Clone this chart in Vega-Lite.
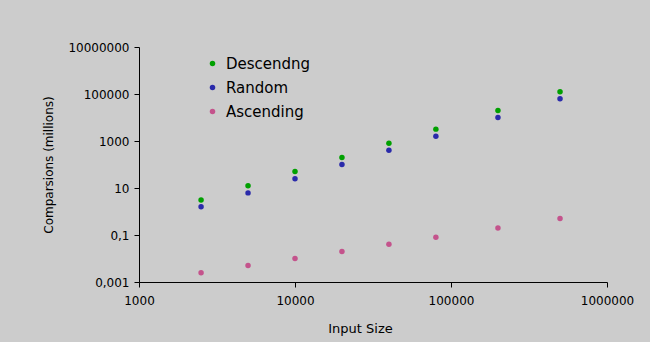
{
  "$schema": "https://vega.github.io/schema/vega-lite/v6.json",
  "width": 468,
  "height": 235,
  "autosize": "none",
  "padding": {"left": 139, "top": 47, "right": 43, "bottom": 60},
  "background": "#cccccc",
  "config": {
    "view": {"stroke": null},
    "font": "DejaVu Sans",
    "axis": {
      "grid": false,
      "domainColor": "#000000",
      "tickColor": "#000000",
      "labelColor": "#000000",
      "titleColor": "#000000",
      "labelFont": "DejaVu Sans",
      "titleFont": "DejaVu Sans",
      "labelFontSize": 12,
      "titleFontSize": 12,
      "titleFontWeight": "normal",
      "tickSize": 5,
      "domainWidth": 1,
      "tickWidth": 1
    }
  },
  "data": {
    "values": [
      {"n": 2500, "series": "Descendng", "c": 3.1},
      {"n": 5000, "series": "Descendng", "c": 12.5},
      {"n": 10000, "series": "Descendng", "c": 50},
      {"n": 20000, "series": "Descendng", "c": 200},
      {"n": 40000, "series": "Descendng", "c": 800},
      {"n": 80000, "series": "Descendng", "c": 3200},
      {"n": 200000, "series": "Descendng", "c": 20000},
      {"n": 500000, "series": "Descendng", "c": 125000},
      {"n": 2500, "series": "Random", "c": 1.6},
      {"n": 5000, "series": "Random", "c": 6.2},
      {"n": 10000, "series": "Random", "c": 25},
      {"n": 20000, "series": "Random", "c": 100},
      {"n": 40000, "series": "Random", "c": 400},
      {"n": 80000, "series": "Random", "c": 1600},
      {"n": 200000, "series": "Random", "c": 10000},
      {"n": 500000, "series": "Random", "c": 62500},
      {"n": 2500, "series": "Ascending", "c": 0.0025},
      {"n": 5000, "series": "Ascending", "c": 0.005},
      {"n": 10000, "series": "Ascending", "c": 0.01},
      {"n": 20000, "series": "Ascending", "c": 0.02},
      {"n": 40000, "series": "Ascending", "c": 0.04},
      {"n": 80000, "series": "Ascending", "c": 0.08},
      {"n": 200000, "series": "Ascending", "c": 0.2},
      {"n": 500000, "series": "Ascending", "c": 0.5}
    ]
  },
  "mark": {"type": "circle", "size": 30, "opacity": 1},
  "encoding": {
    "x": {
      "field": "n",
      "type": "quantitative",
      "scale": {"type": "log", "domain": [1000, 1000000], "nice": false},
      "axis": {
        "title": "Input Size",
        "values": [1000, 10000, 100000, 1000000],
        "labelExpr": "toString(datum.value)",
        "labelPadding": 8,
        "labelFlush": false,
        "titleX": 221,
        "titleY": 40,
        "titleFontSize": 13
      }
    },
    "y": {
      "field": "c",
      "type": "quantitative",
      "scale": {"type": "log", "domain": [0.001, 10000000], "nice": false},
      "axis": {
        "title": "Comparsions (millions)",
        "values": [0.001, 0.1, 10, 1000, 100000, 10000000],
        "labelExpr": "replace(toString(datum.value), '.', ',')",
        "labelPadding": 5,
        "labelFlush": false,
        "titleX": -91,
        "titleBaseline": "middle"
      }
    },
    "color": {
      "field": "series",
      "type": "nominal",
      "sort": ["Descendng", "Random", "Ascending"],
      "scale": {
        "domain": ["Descendng", "Random", "Ascending"],
        "range": ["#00a000", "#2a2aaa", "#c4538c"]
      },
      "legend": {
        "title": null,
        "orient": "none",
        "legendX": 66,
        "legendY": 9,
        "symbolType": "circle",
        "symbolSize": 30,
        "labelFontSize": 15,
        "labelFont": "DejaVu Sans",
        "labelColor": "#000000",
        "labelOffset": 6,
        "rowPadding": 8,
        "symbolStrokeWidth": 0
      }
    }
  }
}
